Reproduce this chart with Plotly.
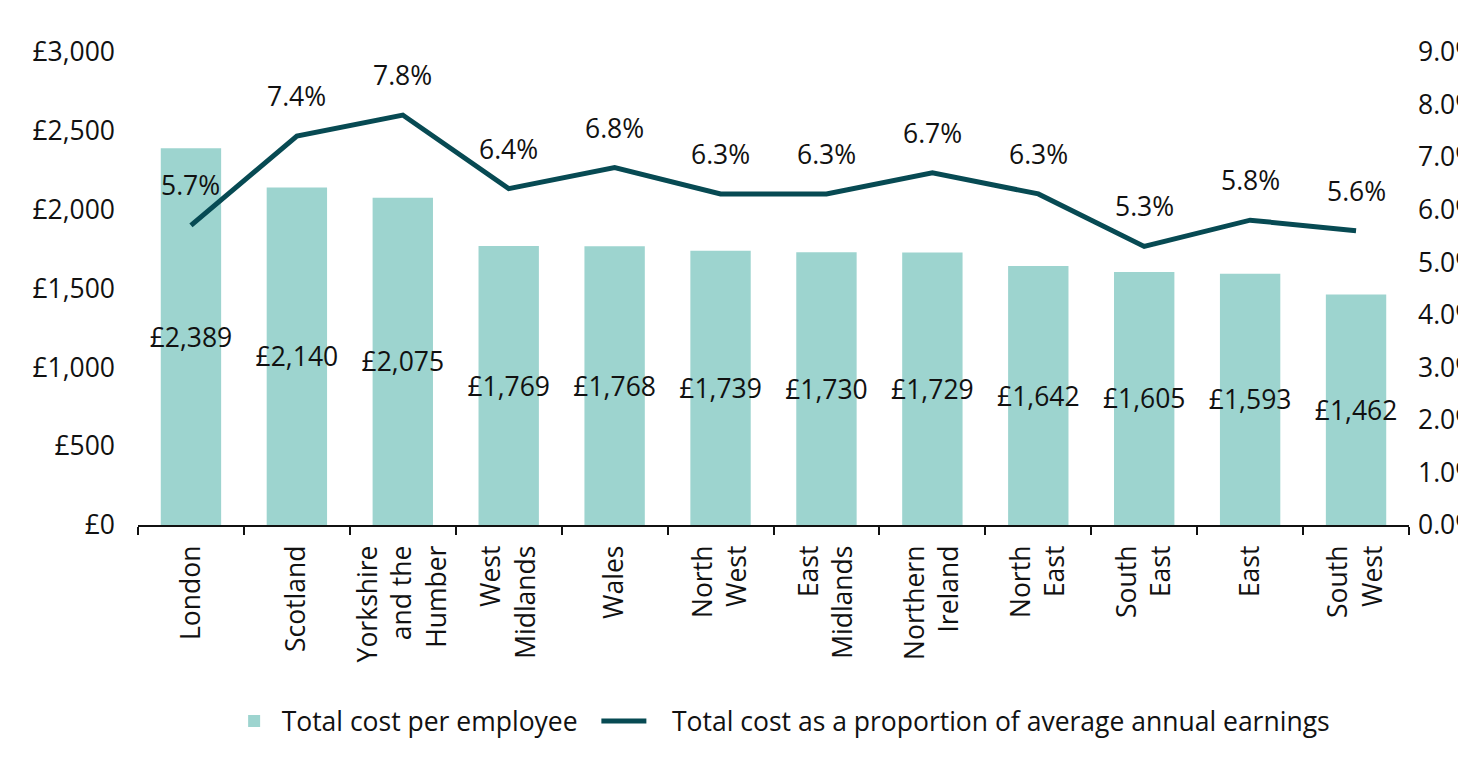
import plotly.graph_objects as go

regions = ["London", "Scotland", "Yorkshire<br>and the<br>Humber", "West<br>Midlands",
           "Wales", "North<br>West", "East<br>Midlands", "Northern<br>Ireland",
           "North<br>East", "South<br>East", "East", "South<br>West"]
cost_per_employee = [2389, 2140, 2075, 1769, 1768, 1739, 1730, 1729, 1642, 1605, 1593, 1462]
pct_of_earnings = [5.7, 7.4, 7.8, 6.4, 6.8, 6.3, 6.3, 6.7, 6.3, 5.3, 5.8, 5.6]

BAR = "#9dd4cf"
LINE = "#074a53"
FONT = "Open Sans"
FS = 26.5

fig = go.Figure()

fig.add_trace(go.Bar(
    x=regions, y=cost_per_employee, name="Total cost per employee\u00a0\u00a0",
    marker=dict(color=BAR, line=dict(width=0)),
    text=[f"£{v:,}" for v in cost_per_employee],
    textposition="inside", insidetextanchor="middle",
    textfont=dict(color="#111111", size=FS, family=FONT),
    textangle=0, constraintext="none",
))

fig.add_trace(go.Scatter(
    x=regions, y=pct_of_earnings,
    name="\u00a0\u00a0\u00a0Total cost as a proportion of average annual earnings",
    mode="lines", line=dict(color=LINE, width=5), yaxis="y2",
))

for r, p in zip(regions, pct_of_earnings):
    fig.add_annotation(x=r, y=p, yref="y2", text=f"{p:.1f}%", showarrow=False,
                       yshift=40, font=dict(size=FS, color="#111111", family=FONT))

# the page adds an 8px body margin, so the figure is shrunk by that much
fig.update_layout(
    width=1458, height=759,
    paper_bgcolor="white", plot_bgcolor="white",
    font=dict(family=FONT, size=FS, color="#111111"),
    margin=dict(l=130, r=57, t=44, b=242),
    bargap=0.43,
    showlegend=True,
    legend=dict(orientation="h", x=0.506, xanchor="center", y=-0.415, yanchor="middle",
                font=dict(size=FS), itemwidth=45),
    xaxis=dict(tickangle=-90, showline=True, linecolor="#111111", linewidth=2,
               ticks="outside", tickson="boundaries", ticklen=8, tickwidth=2,
               tickcolor="#111111", showgrid=False, tickfont=dict(size=FS),
               automargin=False, ticklabelstandoff=8),
    yaxis=dict(range=[0, 3000], dtick=500, tickprefix="£", tickformat=",d",
               showgrid=False, zeroline=False, showline=False, ticks="",
               ticklabelstandoff=22, automargin=False),
    yaxis2=dict(range=[0, 9], dtick=1, ticksuffix="%", tickformat=".1f", overlaying="y",
                side="right", showgrid=False, zeroline=False, showline=False, ticks="",
                ticklabelstandoff=8, automargin=False),
)

fig.write_html("out.html")
